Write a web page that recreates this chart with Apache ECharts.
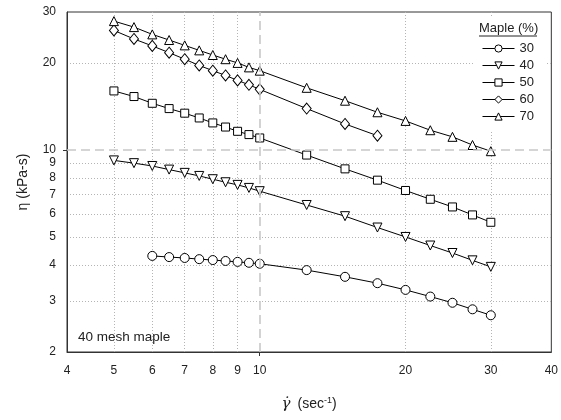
<!DOCTYPE html>
<html>
<head>
<meta charset="utf-8">
<script src="https://cdn.jsdelivr.net/npm/echarts@6/dist/echarts.min.js"></script>
<style>html,body{margin:0;padding:0;background:#fff}#c{width:561px;height:420px}</style>
</head>
<body>
<div id="c"></div>
<script>
// Data (log-log plot)
const shearRate = [5, 5.5, 6, 6.5, 7, 7.5, 8, 8.5, 9, 9.5, 10, 12.5, 15, 17.5, 20, 22.5, 25, 27.5, 30];
const maple30 = [null, null, 4.30, 4.26, 4.23, 4.19, 4.16, 4.13, 4.10, 4.07, 4.04, 3.84, 3.64, 3.46, 3.28, 3.11, 2.96, 2.81, 2.68];
const maple40 = [9.2, 9.0, 8.8, 8.55, 8.33, 8.13, 7.92, 7.73, 7.57, 7.39, 7.2, 6.45, 5.9, 5.39, 5.0, 4.67, 4.40, 4.15, 3.94];
const maple50 = [16.0, 15.3, 14.5, 13.9, 13.4, 12.9, 12.4, 12.0, 11.6, 11.3, 11.0, 9.6, 8.6, 7.86, 7.24, 6.75, 6.35, 5.96, 5.62];
const maple60 = [25.9, 24.2, 22.9, 21.7, 20.6, 19.6, 18.8, 18.1, 17.4, 16.8, 16.2, 13.9, 12.3, 11.2, null, null, null, null, null];
const maple70 = [27.9, 26.6, 25.1, 24.0, 23.0, 22.1, 21.3, 20.6, 20.0, 19.3, 18.8, 16.4, 14.8, 13.5, 12.6, 11.7, 11.1, 10.4, 9.9];
const seriesNames = ['30', '40', '50', '60', '70'];
const xTickLabels = [4, 5, 6, 7, 8, 9, 10, 20, 30, 40];
const yTickLabels = [2, 3, 4, 5, 6, 7, 8, 9, 10, 20, 30];
const xGrid = [5, 6, 7, 8, 9, 20, 30];
const yGrid = [3, 4, 5, 6, 7, 8, 9, 20];
const refValue = [10];

const FONT = '"Liberation Sans", Arial, sans-serif';
const pairs = vals => shearRate.map((x, i) => [x, vals[i]]).filter(p => p[1] != null);
const seriesData = [maple30, maple40, maple50, maple60, maple70];
const symbols = ['circle', 'triangle', 'rect', 'diamond', 'triangle'];
const symSizes = [9, 9, 8, [9, 11], 9];
const symRot = [0, 180, 0, 0, 0];

const series = seriesData.map((vals, k) => ({
  name: seriesNames[k],
  type: 'line',
  data: pairs(vals),
  symbol: symbols[k],
  symbolSize: symSizes[k],
  symbolRotate: symRot[k],
  showAllSymbol: true,
  z: 3,
  lineStyle: { color: '#000', width: 1 },
  itemStyle: { color: '#fff', borderColor: '#000', borderWidth: 1 },
  emphasis: { disabled: true },
  animation: false
}));
series.push({
  name: 'ref', type: 'line', data: [], z: 1, silent: true, animation: false,
  markLine: {
    silent: true, symbol: 'none', label: { show: false }, animation: false,
    lineStyle: { color: '#c8c8c8', width: 1.6, type: [9, 5] },
    data: [{ xAxis: refValue[0] }, { yAxis: refValue[0] }]
  }
});

const axisBase = {
  type: 'log', logBase: 10,
  minorTick: { show: false }, minorSplitLine: { show: false }
};

const chart = echarts.init(document.getElementById('c'), null, { renderer: 'canvas' });
chart.setOption({
  animation: false,
  backgroundColor: '#fff',
  textStyle: { fontFamily: FONT },
  grid: { left: 67, right: 8, top: 12, bottom: 68, show: true, borderColor: '#333', borderWidth: 1, backgroundColor: 'transparent' },
  xAxis: [Object.assign({}, axisBase, {
    min: 4, max: 40, position: 'bottom',
    axisLine: { show: true, lineStyle: { color: '#333', width: 1 } },
    axisTick: { show: false, customValues: xGrid },
    axisLabel: { customValues: xTickLabels, color: '#222', fontSize: 12, margin: 13, fontFamily: FONT, formatter: v => String(Math.round(v)) },
    splitLine: { show: true, lineStyle: { color: '#b4b4b4', type: [1, 2], width: 1 } },
    name: '{g|γ̇}{t|(sec}{s|-1}{t|)}',
    nameLocation: 'middle', nameGap: 44,
    nameTextStyle: {
      fontSize: 14, color: '#222', fontFamily: FONT,
      rich: {
        g: { fontSize: 15, fontStyle: 'italic', fontFamily: '"DejaVu Serif", "Liberation Serif", serif', color: '#222', padding: [0, 7, 0, 0] },
        t: { fontSize: 14, fontFamily: FONT, color: '#222' },
        s: { fontSize: 9, fontFamily: FONT, color: '#222', padding: [0, 0, 8, 0] }
      }
    }
  }), Object.assign({}, axisBase, {
    min: 4, max: 40, position: 'bottom', offset: 0,
    axisLine: { show: false },
    axisTick: { show: true, inside: false, length: 4, customValues: refValue, lineStyle: { color: '#333' } },
    axisLabel: { show: false },
    splitLine: { show: false }
  })],
  yAxis: [Object.assign({}, axisBase, {
    min: 2, max: 30, position: 'left',
    axisLine: { show: true, lineStyle: { color: '#333', width: 1 } },
    axisTick: { show: false, customValues: yGrid },
    axisLabel: { customValues: yTickLabels, color: '#222', fontSize: 12, margin: 11, fontFamily: FONT, formatter: v => String(Math.round(v)) },
    splitLine: { show: true, lineStyle: { color: '#b4b4b4', type: [1, 2], width: 1 } },
    name: 'η (kPa-s)', nameLocation: 'middle', nameGap: 37,
    nameTextStyle: { fontSize: 14, color: '#222', fontFamily: FONT }
  }), Object.assign({}, axisBase, {
    min: 2, max: 30, position: 'left', offset: 0,
    axisLine: { show: false },
    axisTick: { show: true, inside: false, length: 4, customValues: refValue, lineStyle: { color: '#333' } },
    axisLabel: { show: false },
    splitLine: { show: false }
  })],
  legend: {
    data: seriesNames,
    orient: 'vertical', left: 475, top: 17,
    padding: [25, 13, 7, 7],
    backgroundColor: '#fff',
    itemWidth: 32, itemHeight: 9, itemGap: 4,
    lineStyle: { width: 1 },
    itemStyle: { borderWidth: 1 },
    textStyle: { fontSize: 13, color: '#222', fontFamily: FONT },
    selectedMode: false
  },
  graphic: [
    { type: 'text', z: 100, left: 479, top: 22, style: { text: 'Maple (%)', font: '13px ' + FONT, fill: '#222' } },
    { type: 'line', z: 100, shape: { x1: 479, y1: 36, x2: 537, y2: 36 }, style: { stroke: '#222', lineWidth: 1 } },
    { type: 'text', z: 100, left: 78, top: 330, style: { text: '40 mesh maple', font: '13.5px ' + FONT, fill: '#222' } }
  ],
  series: series
});
</script>
</body>
</html>
